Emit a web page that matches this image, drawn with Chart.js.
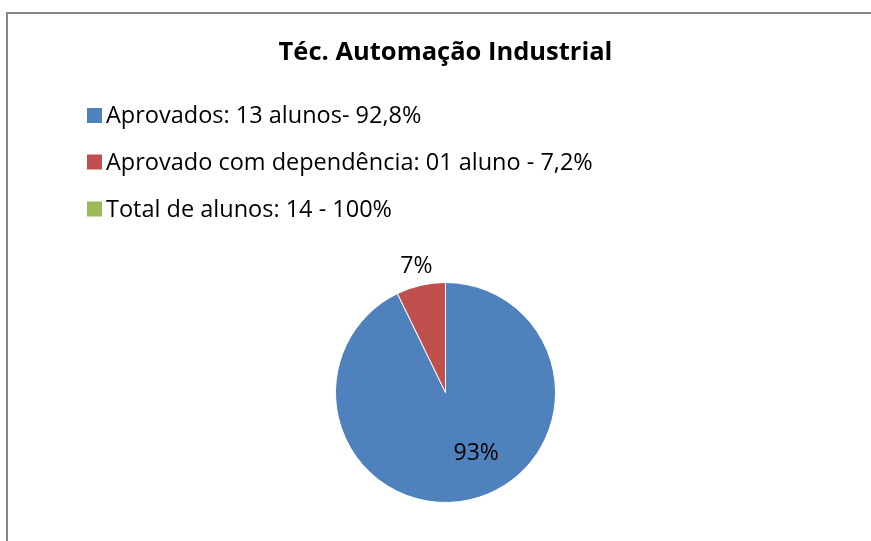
<!DOCTYPE html>
<html>
<head>
<meta charset="utf-8">
<script src="https://cdn.jsdelivr.net/npm/chart.js@4.4.0/dist/chart.umd.min.js"></script>
<style>
  html, body { margin: 0; padding: 0; background: #fff; }
  #wrap { position: relative; width: 871px; height: 541px; overflow: hidden; }
  #frame { position: absolute; left: 6px; top: 12px; width: 900px; height: 600px;
           border-top: 2px solid #878787; border-left: 2px solid #878787; box-sizing: border-box; }
  canvas { position: absolute; left: 0; top: 0; }
</style>
</head>
<body>
<div id="wrap">
  <div id="frame"></div>
  <canvas id="c" width="871" height="541"></canvas>
</div>
<script>
const titleText = 'Téc. Automação Industrial';
const categories = [
  'Aprovados: 13 alunos- 92,8%',
  'Aprovado com dependência: 01 aluno - 7,2%',
  'Total de alunos: 14 - 100%'
];
const values = [92.8, 7.2, 0];
const sliceLabels = ['93%', '7%', ''];
const colors = ['#4F81BD', '#C0504D', '#9BBB59'];

const FONT = "'Open Sans', 'Liberation Sans', sans-serif";

const customText = {
  id: 'customText',
  afterDraw(chart) {
    const ctx = chart.ctx;
    ctx.save();
    // title
    ctx.fillStyle = '#000';
    ctx.font = 'bold 25.5px ' + FONT;
    ctx.textAlign = 'center';
    ctx.textBaseline = 'alphabetic';
    ctx.fillText(titleText, 445.5, 60);
    // legend
    ctx.font = '23.5px ' + FONT;
    ctx.textAlign = 'left';
    ctx.textBaseline = 'middle';
    const rowY = [115.5, 162, 209];
    chart.data.labels.forEach((lab, i) => {
      const y = rowY[i];
      ctx.fillStyle = chart.data.datasets[0].backgroundColor[i];
      ctx.fillRect(87, y - 7.5, 15, 15);
      ctx.fillStyle = '#000';
      ctx.fillText(lab, 106, y + 1);
    });
    // slice labels
    const meta = chart.getDatasetMeta(0);
    ctx.font = '23px ' + FONT;
    ctx.textAlign = 'center';
    ctx.textBaseline = 'middle';
    const cfg = [{ frac: 0.62, da: -0.24 }, { frac: 1.18, da: 0 }, { frac: 0, da: 0 }];
    meta.data.forEach((arc, i) => {
      const t = sliceLabels[i];
      if (!t) return;
      const p = arc.getProps(['x', 'y', 'startAngle', 'endAngle', 'outerRadius']);
      const a = (p.startAngle + p.endAngle) / 2 + cfg[i].da;
      const r = p.outerRadius * cfg[i].frac;
      ctx.fillStyle = '#000';
      ctx.fillText(t, p.x + Math.cos(a) * r, p.y + Math.sin(a) * r);
    });
    ctx.restore();
  }
};

new Chart(document.getElementById('c'), {
  type: 'pie',
  data: {
    labels: categories,
    datasets: [{
      data: values,
      backgroundColor: colors,
      borderColor: '#ffffff',
      borderWidth: 1
    }]
  },
  options: {
    responsive: false,
    animation: false,
    layout: { padding: { top: 282, bottom: 38, left: 20, right: 0 } },
    plugins: {
      legend: { display: false },
      title: { display: false },
      tooltip: { enabled: false }
    }
  },
  plugins: [customText]
});
</script>
</body>
</html>
